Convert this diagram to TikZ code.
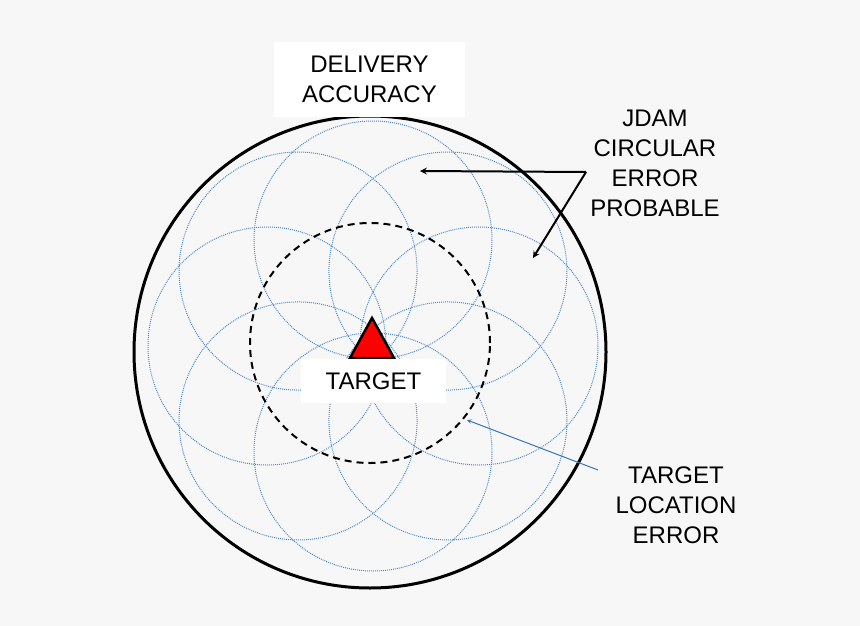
\documentclass[tikz,border=0pt]{standalone}
\usepackage{fontspec}
\setmainfont{Liberation Sans}
\definecolor{bg}{RGB}{247,247,247}
\definecolor{errblue}{RGB}{80,140,205}
\definecolor{tleblue}{RGB}{60,120,185}
\begin{document}
\begin{tikzpicture}[x=1pt,y=-1pt,
  lbl/.style={font=\fontsize{24}{30}\selectfont,align=center,text=black},
  err/.style={draw=errblue,densely dotted,line width=1pt}]
\fill[bg] (0,0) rectangle (860,626);
\useasboundingbox (0,0) rectangle (860,626);
\foreach \a in {0,45,...,315}{
  \draw[err] ({373+106*cos(\a)},{346-106*sin(\a)}) circle (119);
}
\node[draw,line width=3pt,circle,minimum size=472] (outer) at (370,352) {};
\node[draw,dash pattern=on 7pt off 5pt,line width=2pt,circle,minimum size=240] (cep) at (370,343) {};
\draw[fill=red,line width=2.5pt,line join=miter] (372,318) -- (394,358) -- (350,358) -- cycle;
\node[fill=white,minimum width=145,minimum height=44,lbl] (tgt) at (373.5,381) {TARGET};
\node[fill=white,minimum width=191,minimum height=75,lbl] (del) at (369.5,79.5) {DELIVERY\\ACCURACY};
\node[lbl] (jdam) at (655,163) {JDAM\\CIRCULAR\\ERROR\\PROBABLE};
\node[lbl] (tle) at (676,505) {TARGET\\LOCATION\\ERROR};
\coordinate (j0) at (586,172);
\coordinate (j1) at (420,171);
\coordinate (j2) at (533,258);
\draw[-stealth,line width=2pt] (j0) -- (j1);
\draw[-stealth,line width=2pt] (j0) -- (j2);
\coordinate (t0) at (598,470);
\coordinate (t1) at (467,420);
\draw[-stealth,line width=1pt,draw=tleblue,fill=tleblue] (t0) -- (t1);
\end{tikzpicture}
\end{document}
